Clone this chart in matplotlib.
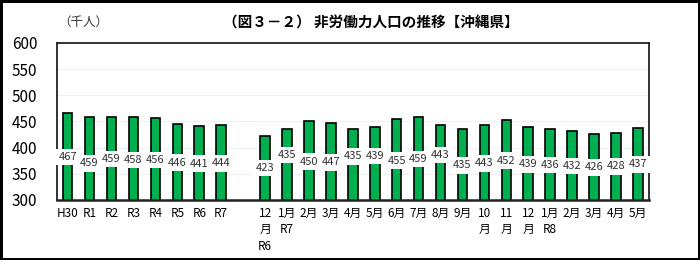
import matplotlib
matplotlib.use('Agg')
import matplotlib.pyplot as plt
import numpy as np

plt.rcParams['font.family'] = ['Noto Sans CJK JP', 'DejaVu Sans']

# ── Data ──────────────────────────────────────────────────────────────────────
annual_labels = ['H30', 'R1', 'R2', 'R3', 'R4', 'R5', 'R6', 'R7']
annual_values = [467, 459, 459, 458, 456, 446, 441, 444]

monthly_labels = ['12\n月\nR6', '1月\nR7', '2月', '3月', '4月', '5月', '6月', '7月',
                  '8月', '9月', '10\n月', '11\n月', '12\n月', '1月\nR8',
                  '2月', '3月', '4月', '5月']
monthly_values = [423, 435, 450, 447, 435, 439, 455, 459, 443, 435,
                  443, 452, 439, 436, 432, 426, 428, 437]

# where each data label box sits (y in data units, as placed in the original)
annual_label_y = [382, 370, 378, 376, 376, 371, 369, 370]
monthly_label_y = [361, 386, 373, 372, 383, 384, 375, 378, 386, 366,
                   370, 375, 368, 367, 365, 362, 364, 368]

GREEN = '#00B050'

labels = annual_labels + [''] + monthly_labels
values = annual_values + [np.nan] + monthly_values
label_y = annual_label_y + [np.nan] + monthly_label_y
x = np.arange(len(labels))

fig = plt.figure(figsize=(7, 2.6), dpi=100, edgecolor='black', linewidth=2.5)
ax = fig.add_axes([0.081, 0.231, 0.846, 0.604])

ax.bar(x, values, width=0.44, color=GREEN, edgecolor='black', linewidth=1.2,
       zorder=2)

for xi, v, ly in zip(x, values, label_y):
    if np.isnan(v):
        continue
    ax.text(xi, ly, f'{v:.0f}', ha='center', va='center', fontsize=8,
            color='#333333', zorder=5,
            bbox=dict(boxstyle='square,pad=0.3', fc='white', ec='none'))

ax.set_ylim(300, 600)
ax.set_xlim(-0.5, len(labels) - 0.5)
ax.set_yticks(np.arange(300, 601, 50))
ax.yaxis.grid(True, color='#f0f0f0', linewidth=0.8, zorder=0)
ax.set_axisbelow(True)
ax.set_xticks(x)
ax.set_xticklabels(labels, fontsize=8.5, linespacing=1.35, va='top')
ax.tick_params(axis='both', length=0)
ax.tick_params(axis='y', labelsize=11, pad=14)
ax.tick_params(axis='x', pad=5)
for s in ax.spines.values():
    s.set_color('#222222')
    s.set_linewidth(1.3)
ax.spines['bottom'].set_linewidth(1.8)

fig.text(0.53, 0.915, '（図３－２） 非労働力人口の推移【沖縄県】', ha='center',
         va='center', fontsize=10.5, fontweight='bold')
fig.text(0.083, 0.915, '（千人）', ha='left', va='center', fontsize=9,
         color='#333333')

fig.savefig('out.png', dpi=100)
